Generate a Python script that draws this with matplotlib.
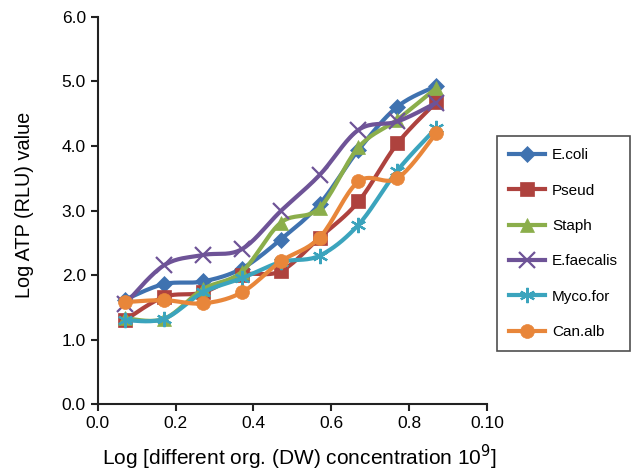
import matplotlib
matplotlib.use('Agg')
import matplotlib.pyplot as plt
import numpy as np
from matplotlib.lines import Line2D

plt.rcParams['font.family'] = ['Liberation Sans', 'DejaVu Sans']

# x positions (log concentration)
conc = [0.07, 0.17, 0.27, 0.37, 0.47, 0.57, 0.67, 0.77, 0.87]

ecoli = [1.62, 1.86, 1.90, 2.10, 2.55, 3.10, 3.94, 4.61, 4.93]
pseud = [1.30, 1.66, 1.73, 2.00, 2.06, 2.58, 3.14, 4.04, 4.68]
staph = [1.33, 1.32, 1.78, 2.05, 2.81, 3.04, 3.98, 4.41, 4.90]
efaec = [1.55, 2.15, 2.31, 2.40, 2.99, 3.55, 4.25, 4.38, 4.67]
myco = [1.30, 1.32, 1.73, 1.95, 2.20, 2.30, 2.78, 3.62, 4.28]
canalb = [1.58, 1.61, 1.56, 1.73, 2.21, 2.58, 3.45, 3.50, 4.20]

names = ['E.coli', 'Pseud', 'Staph', 'E.faecalis', 'Myco.for', 'Can.alb']
series = [ecoli, pseud, staph, efaec, myco, canalb]
colors = ['#3f72b0', '#ae423e', '#8bae4b', '#6e5397', '#3ba4bd', '#e8863a']
markers = ['D', 's', '^', 'x', (6, 2, 0), 'o']
msizes = [8, 10, 10, 11, 11, 10]

x_ticks = [0.0, 0.2, 0.4, 0.6, 0.8, 1.0]
x_ticklabels = ['0.0', '0.2', '0.4', '0.6', '0.8', '0.10']
y_ticks = [0, 1, 2, 3, 4, 5, 6]


def smooth(x, y, n=20):
    # Catmull-Rom style smoothing (like Excel "smoothed line"), drawing only
    x = np.asarray(x, float)
    y = np.asarray(y, float)
    px = np.concatenate([[x[0]], x, [x[-1]]])
    py = np.concatenate([[y[0]], y, [y[-1]]])
    xs, ys = [], []
    t = np.linspace(0, 1, n)
    for i in range(1, len(px) - 2):
        p0 = np.array([px[i], py[i]])
        p3 = np.array([px[i + 1], py[i + 1]])
        c1 = p0 + (np.array([px[i + 1], py[i + 1]]) - np.array([px[i - 1], py[i - 1]])) / 6
        c2 = p3 - (np.array([px[i + 2], py[i + 2]]) - p0) / 6
        b = ((1 - t) ** 3)[:, None] * p0 + (3 * (1 - t) ** 2 * t)[:, None] * c1 \
            + (3 * (1 - t) * t ** 2)[:, None] * c2 + (t ** 3)[:, None] * p3
        xs.extend(b[:, 0])
        ys.extend(b[:, 1])
    return xs, ys


fig = plt.figure(figsize=(6.39, 4.72), dpi=100)
ax = fig.add_axes([0.153, 0.144, 0.609, 0.820])

handles = []
for i, (name, vals) in enumerate(zip(names, series)):
    sx, sy = smooth(conc, vals)
    ax.plot(sx, sy, color=colors[i], lw=3, zorder=2 + i, solid_capstyle='round')
    mew = 1.6 if markers[i] in ('x', (6, 2, 0)) else 0.5
    ax.plot(conc, vals, ls='none', marker=markers[i], ms=msizes[i], color=colors[i],
            mec=colors[i], mew=mew, zorder=2 + i)
    handles.append(Line2D([], [], color=colors[i], lw=3, marker=markers[i], ms=msizes[i],
                          mec=colors[i], mew=mew))

ax.set_xlim(0, 1.0)
ax.set_ylim(0, 6.0)
ax.set_xticks(x_ticks)
ax.set_xticklabels(x_ticklabels)
ax.set_yticks(y_ticks)
ax.set_yticklabels(['%.1f' % v for v in y_ticks])
ax.tick_params(labelsize=12.5, length=5, width=1.5, direction='out', color='#222222')
for s in ['top', 'right']:
    ax.spines[s].set_visible(False)
for s in ['left', 'bottom']:
    ax.spines[s].set_linewidth(1.5)
    ax.spines[s].set_color('#222222')

ax.set_xlabel('Log [different org. (DW) concentration 10$^9$]', fontsize=15)
ax.xaxis.set_label_coords(0.517, -0.1)
ax.set_ylabel('Log ATP (RLU) value', fontsize=14.3)
ax.yaxis.set_label_coords(-0.165, 0.515)

leg = fig.legend(handles, names, loc='upper left', bbox_to_anchor=(0.778, 0.712),
                 fontsize=11, frameon=True, fancybox=False, edgecolor='#222222',
                 handlelength=2.3, labelspacing=1.4, borderpad=0.8, handletextpad=0.5,
                 borderaxespad=0)
leg.get_frame().set_linewidth(1.2)

fig.savefig('out.png', dpi=100)
